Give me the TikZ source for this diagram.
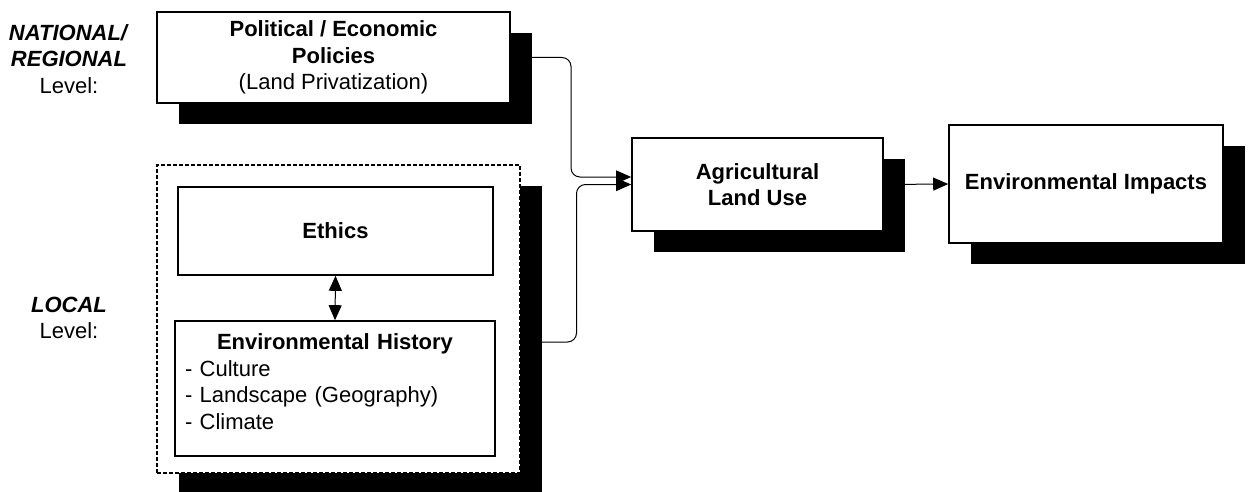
\documentclass[tikz,border=0pt]{standalone}
\usepackage{fontspec}
\setmainfont{Liberation Sans}
\usetikzlibrary{shadows,arrows.meta,calc}
\begin{document}
\begin{tikzpicture}[x=1pt,y=-1pt,
  every node/.style={font=\fontsize{22}{26.5}\selectfont},
  shbox/.style={draw=black, line width=1.6pt, fill=white, inner sep=0pt,
    drop shadow={shadow xshift=22pt, shadow yshift=-21pt, fill=black, opacity=1}},
  plainbox/.style={draw=black, line width=1.6pt, fill=white, inner sep=0pt},
  grpbox/.style={draw=black, line width=1.5pt, dash pattern=on 4pt off 2pt, fill=white, inner sep=0pt,
    drop shadow={shadow xshift=22pt, shadow yshift=-21pt, fill=black, opacity=1}},
  tip/.style={Triangle[length=15pt,width=13pt]},
  conn/.style={line width=1pt, rounded corners=9pt, -{Triangle[length=15pt,width=13pt]}},
  lbl/.style={align=center, inner sep=0pt}
]
\useasboundingbox (0,0) rectangle (1250,492);

% left labels
\node[lbl] (natl) at (69,59) {\textbf{\textit{NATIONAL/}}\\\textbf{\textit{REGIONAL}}\\Level:};
\node[lbl] (locl) at (69,318) {\textbf{\textit{LOCAL}}\\Level:};

% boxes
\node[shbox, minimum width=353pt, minimum height=91pt, align=center] (pol) at (333.5,57.5)
  {\textbf{Political / Economic}\\\textbf{Policies}\\(Land Privatization)};

\node[grpbox, minimum width=363pt, minimum height=308pt] (grp) at (338.5,319) {};
\node[plainbox, minimum width=315pt, minimum height=88pt] (eth) at (335.5,231) {\textbf{Ethics}};
\node[plainbox, minimum width=320pt, minimum height=135pt] (hist) at (335,388.5) {};
\node[anchor=north, inner sep=0pt, text width=300pt, align=left] (histtxt) at (335,333.5)
  {\makebox[\linewidth]{\textbf{Environmental History}}\\- Culture\\- Landscape (Geography)\\- Climate};

\node[shbox, minimum width=251pt, minimum height=93pt, align=center] (agri) at (757.5,184.5)
  {\textbf{Agricultural}\\\textbf{Land Use}};
\node[shbox, minimum width=274pt, minimum height=118pt] (imp) at (1086,184)
  {\textbf{Environmental Impacts}};

% connectors
\coordinate (j1) at (571,0);
\coordinate (j2) at (576.5,0);
\coordinate (a1) at ($(agri.west)+(0,-7.5)$);
\coordinate (g1) at ($(grp.east)+(0,23)$);
\draw[conn] (pol.east) -- (pol.east -| j1) -- (j1 |- a1) -- (a1);
\draw[conn] (g1) -- (g1 -| j2) -- (j2 |- agri.west) -- (agri.west);
\draw[conn] (agri.east) -- (imp.west);
\draw[line width=1pt, {Triangle[length=15pt,width=13pt]}-{Triangle[length=15pt,width=13pt]}] (eth.south) -- (hist.north);
\end{tikzpicture}
\end{document}
